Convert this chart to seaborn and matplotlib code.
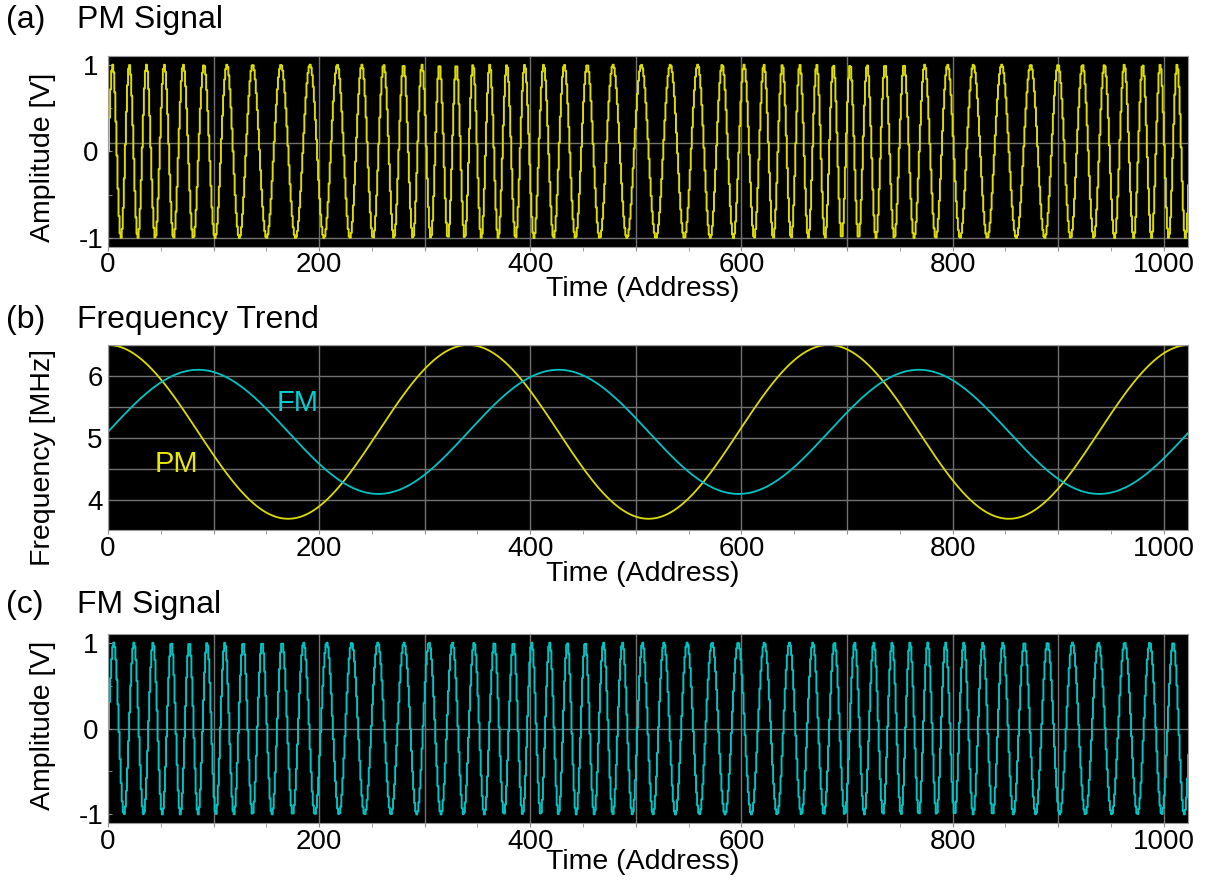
import numpy as np
import pandas as pd
import matplotlib
matplotlib.use('Agg')
import matplotlib.pyplot as plt
from matplotlib.ticker import MultipleLocator, FixedLocator, FuncFormatter
import seaborn as sns

# values
n_address = 1024            # record length (addresses 0..1023)
sample_rate_mhz = 102.4     # 1024 addresses = 10 us
mod_cycles = 3              # the trend repeats three times over the record
carrier_mhz = 5.1
pm_dev_mhz = 1.4            # PM trend swings 3.7 .. 6.5 MHz
fm_dev_mhz = 1.0            # FM trend swings 4.1 .. 6.1 MHz

panel_letters = ['(a)', '(b)', '(c)']
panel_titles = ['PM Signal', 'Frequency Trend', 'FM Signal']
trend_names = ['PM', 'FM']
amp_ticks = [-1, 0, 1]
freq_ticks = [4, 5, 6]
x_tick_labels = [0, 200, 400, 600, 800, 1000]

YELLOW = '#dcdc00'
CYAN = '#00c4c4'
GRID = '#727272'

addr = np.arange(n_address)
theta = 2 * np.pi * mod_cycles * addr / n_address
pm_freq = carrier_mhz + pm_dev_mhz * np.cos(theta)
fm_freq = carrier_mhz + fm_dev_mhz * np.sin(theta)


def signal_from_trend(freq):
    phase = np.concatenate([[0.0], np.cumsum(freq[:-1])]) / sample_rate_mhz
    return np.sin(2 * np.pi * phase)


df = pd.DataFrame({
    'address': addr,
    'pm_freq': pm_freq,
    'fm_freq': fm_freq,
    'pm_sig': signal_from_trend(pm_freq),
    'fm_sig': signal_from_trend(fm_freq),
})

sns.set_style('dark', {'axes.facecolor': 'black'})
plt.rcParams['font.family'] = ['Liberation Sans', 'DejaVu Sans']
plt.rcParams['axes.unicode_minus'] = False
plt.rcParams['text.color'] = 'black'
plt.rcParams['axes.labelcolor'] = 'black'
plt.rcParams['xtick.labelcolor'] = 'black'
plt.rcParams['ytick.labelcolor'] = 'black'

fig = plt.figure(figsize=(12.05, 8.84), dpi=100)
ax_a = fig.add_axes([0.0896, 0.7209, 0.8963, 0.2157])
ax_b = fig.add_axes([0.0896, 0.4005, 0.8963, 0.2093])
ax_c = fig.add_axes([0.0896, 0.0690, 0.8963, 0.2138])
axes = [ax_a, ax_b, ax_c]

sns.lineplot(data=df, x='address', y='pm_sig', ax=ax_a, color=YELLOW, lw=1.4,
             drawstyle='steps-post', estimator=None, sort=False)
sns.lineplot(data=df, x='address', y='pm_freq', ax=ax_b, color=YELLOW, lw=1.3,
             estimator=None, sort=False)
sns.lineplot(data=df, x='address', y='fm_freq', ax=ax_b, color=CYAN, lw=1.3,
             estimator=None, sort=False)
sns.lineplot(data=df, x='address', y='fm_sig', ax=ax_c, color=CYAN, lw=1.4,
             drawstyle='steps-post', estimator=None, sort=False)

ax_b.text(65, 4.58, trend_names[0], color='#e8e800', fontsize=21, ha='center', va='center')
ax_b.text(180, 5.57, trend_names[1], color='#00d0d0', fontsize=21, ha='center', va='center')

ylabels = ['Amplitude [V]', 'Frequency [MHz]', 'Amplitude [V]']
ylabel_y = [0.468, 0.389, 0.514]
xlabel_y = [-0.222, -0.238, -0.206]
ytick_pad = [12.2, 9.4, 12.2]
title_y = [20, 320, 605]

for i, ax in enumerate(axes):
    ax.set_xlim(0, n_address - 1)
    ax.xaxis.set_major_locator(MultipleLocator(100))
    ax.xaxis.set_minor_locator(MultipleLocator(50))
    ax.xaxis.set_major_formatter(FuncFormatter(
        lambda v, p: '%d' % v if int(round(v)) in x_tick_labels else ''))
    ax.grid(False)
    ax.grid(axis='x', which='major', color=GRID, lw=1)
    for s in ax.spines.values():
        s.set_visible(True)
        s.set_color('#9a9a9a')
        s.set_linewidth(0.8)
    ax.tick_params(axis='x', which='both', direction='out', length=3, color='#909090',
                   labelsize=20, pad=1, bottom=True, labelcolor='black')
    ax.tick_params(axis='y', which='both', direction='in', length=3, color='#909090',
                   labelsize=20, pad=ytick_pad[i], left=True, labelcolor='black')

    ax.set_xlabel('Time (Address)', fontsize=20.5, color='black')
    ax.xaxis.label.set_va('center')
    ax.xaxis.set_label_coords(0.495, xlabel_y[i])
    ax.set_ylabel(ylabels[i], fontsize=20.5, color='black')
    ax.yaxis.label.set_va('center')
    ax.yaxis.set_label_coords(-0.0606, ylabel_y[i])

    fig.text(6 / 1205, 1 - title_y[i] / 884, panel_letters[i], fontsize=23,
             va='center', color='black')
    fig.text(77 / 1205, 1 - title_y[i] / 884, panel_titles[i], fontsize=23,
             va='center', color='black')

for ax in [ax_a, ax_c]:
    ax.set_ylim(-1.1, 1.1)
    ax.yaxis.set_major_locator(FixedLocator(amp_ticks))
    ax.yaxis.set_minor_locator(FixedLocator([-0.5, 0.5]))
ax_a.axhline(0.1, color=GRID, lw=1, zorder=0.5)
ax_a.axhline(-1.0, color=GRID, lw=1, zorder=0.5)
ax_c.axhline(0.0, color=GRID, lw=1, zorder=0.5)

ax_b.set_ylim(3.52, 6.5)
ax_b.yaxis.set_major_locator(FixedLocator(freq_ticks))
ax_b.yaxis.set_minor_locator(MultipleLocator(0.5))
ax_b.grid(axis='y', which='both', color=GRID, lw=1)
ax_b.tick_params(axis='y', which='both', length=0)

for ax in axes:
    ax.set_axisbelow(True)
    for lab in ax.get_yticklabels():
        lab.set_ha('center')

fig.savefig('out.png', dpi=100, facecolor='white')
